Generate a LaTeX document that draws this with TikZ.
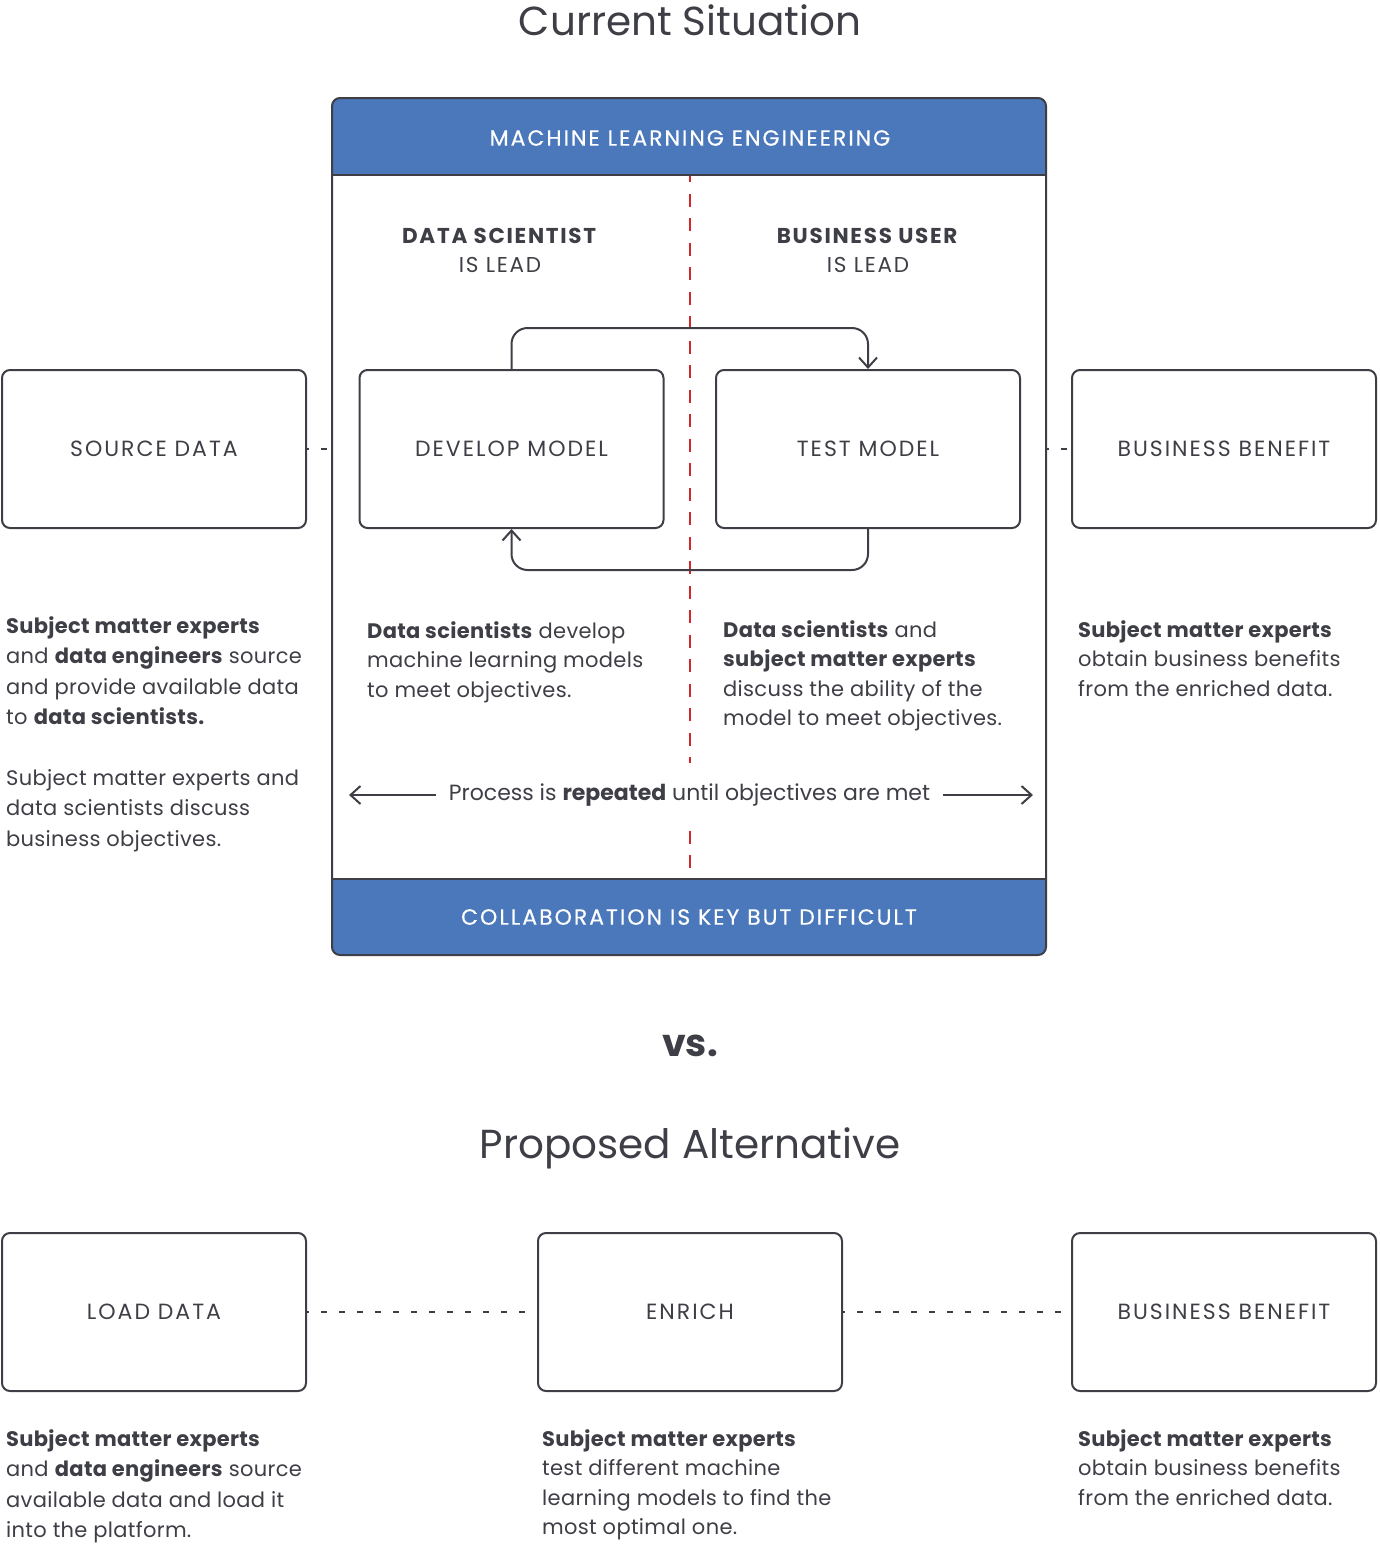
\documentclass[tikz,border=0pt]{standalone}
\usepackage{fontspec}
\setmainfont{Poppins}[LetterSpace=1.5]
\newfontfamily\plainfont{Poppins}
\newfontfamily\capsfont[LetterSpace=9]{Poppins}
\newfontfamily\bandfont[LetterSpace=9, FakeBold=0.4]{Poppins}
\newfontfamily\leadfont[LetterSpace=8]{Poppins}
\usetikzlibrary{arrows.meta}
\definecolor{ink}{HTML}{3E3E46}
\definecolor{band}{HTML}{4A78BB}
\definecolor{redl}{HTML}{D0272F}
\begin{document}
\begin{tikzpicture}[x=1pt,y=-1pt,
  every node/.style={text=ink},
  boxnode/.style={draw=ink, line width=2pt, rounded corners=8pt, minimum width=304pt, minimum height=158pt, font=\capsfont\fontsize{22}{26}\selectfont},
  para/.style={anchor=north west, inner sep=0pt, align=left, font=\fontsize{21}{29.5}\selectfont},
  paral/.style={para, font=\fontsize{21}{30.6}\selectfont},
  title/.style={font=\plainfont\fontsize{40.5}{46}\selectfont},
  bandtext/.style={text=white, font=\bandfont\fontsize{22}{26}\selectfont},
  lead/.style={align=center, font=\leadfont\fontsize{21.5}{29}\selectfont},
  dotline/.style={draw=ink, line width=2pt, dash pattern=on 6pt off 12pt, dash phase=4pt},
  tipv/.style={-{Straight Barb[length=10pt,width=18pt]}},
  loopline/.style={draw=ink, line width=2pt, rounded corners=16pt, tipv},
  procline/.style={draw=ink, line width=2pt, tipv}
]
\useasboundingbox (0,0) rectangle (1379,1547);

% title
\node[title] (t1) at (690,20) {Current Situation};

% bands
\begin{scope}
\clip[rounded corners=8pt] (332,98) rectangle (1046,955);
\fill[band] (332,98) rectangle (1046,175);
\fill[band] (332,879) rectangle (1046,955);
\end{scope}
\draw[ink, line width=2pt] (332,175) -- (1046,175);
\draw[ink, line width=2pt] (332,879) -- (1046,879);
\node[draw=ink, line width=2pt, rounded corners=8pt, minimum width=714pt, minimum height=857pt] (frame) at (689,526.5) {};

\node[bandtext] (hd) at (690,138) {MACHINE LEARNING ENGINEERING};
\node[bandtext] (ft) at (689,917) {COLLABORATION IS KEY BUT DIFFICULT};

% red divider
\draw[redl, line width=2pt, dash pattern=on 13pt off 11.5pt, dash phase=7pt] (690,176) -- (690,878);

\node[lead] (ds) at (500,250) {\textbf{DATA SCIENTIST}\\IS LEAD};
\node[lead] (bu) at (868,250) {\textbf{BUSINESS USER}\\IS LEAD};

% boxes
\node[boxnode] (src) at (154,449) {SOURCE DATA};
\node[boxnode] (dev) at (511.5,449) {DEVELOP MODEL};
\node[boxnode] (test) at (868,449) {TEST MODEL};
\node[boxnode] (bb1) at (1224,449) {BUSINESS BENEFIT};

\draw[dotline] (src.east) -- (frame.west |- src.east);
\draw[dotline] (frame.east |- bb1.west) -- (bb1.west);

\draw[loopline] (dev.north) |- ([yshift=41pt]test.north) -- (test.north);
\draw[loopline] (test.south) |- ([yshift=-41pt]dev.south) -- (dev.south);

% texts
\node[paral] (p1) at (6,616) {\textbf{Subject matter experts}\\and \textbf{data engineers} source\\and provide available data\\to \textbf{data scientists.}};
\node[paral] (p2) at (6,769) {Subject matter experts and\\data scientists discuss\\business objectives.};
\node[para] (p3) at (367,621) {\textbf{Data scientists} develop\\machine learning models\\to meet objectives.};
\node[para] (p4) at (723,620) {\textbf{Data scientists} and\\\textbf{subject matter experts}\\discuss the ability of the\\model to meet objectives.};
\node[para] (p5) at (1078,620) {\textbf{Subject matter experts}\\obtain business benefits\\from the enriched data.};

% process
\node[fill=white, inner xsep=13pt, minimum height=64pt, font=\plainfont\fontsize{22}{26}\selectfont] (proc) at (689.5,795) {Process is \textbf{repeated} until objectives are met};
\coordinate (pl) at (349,795);
\coordinate (pr) at (1033,795);
\draw[procline] (proc.west) -- (pl);
\draw[procline] (proc.east) -- (pr);

% vs
\node[font=\plainfont\fontsize{38}{44}\bfseries\selectfont] (vs) at (690,1046) {vs.};

\node[title] (t2) at (690,1148) {Proposed Alternative};

% bottom boxes
\node[boxnode] (load) at (154,1312) {LOAD DATA};
\node[boxnode] (enr) at (690,1312) {ENRICH};
\node[boxnode] (bb2) at (1224,1312) {BUSINESS BENEFIT};
\draw[dotline] (load.east) -- (enr.west);
\draw[dotline] (enr.east) -- (bb2.west);

\node[paral] (q1) at (6,1429) {\textbf{Subject matter experts}\\and \textbf{data engineers} source\\available data and load it\\into the platform.};
\node[para] (q2) at (542,1429) {\textbf{Subject matter experts}\\test different machine\\learning models to find the\\most optimal one.};
\node[para] (q3) at (1078,1429) {\textbf{Subject matter experts}\\obtain business benefits\\from the enriched data.};
\end{tikzpicture}
\end{document}
